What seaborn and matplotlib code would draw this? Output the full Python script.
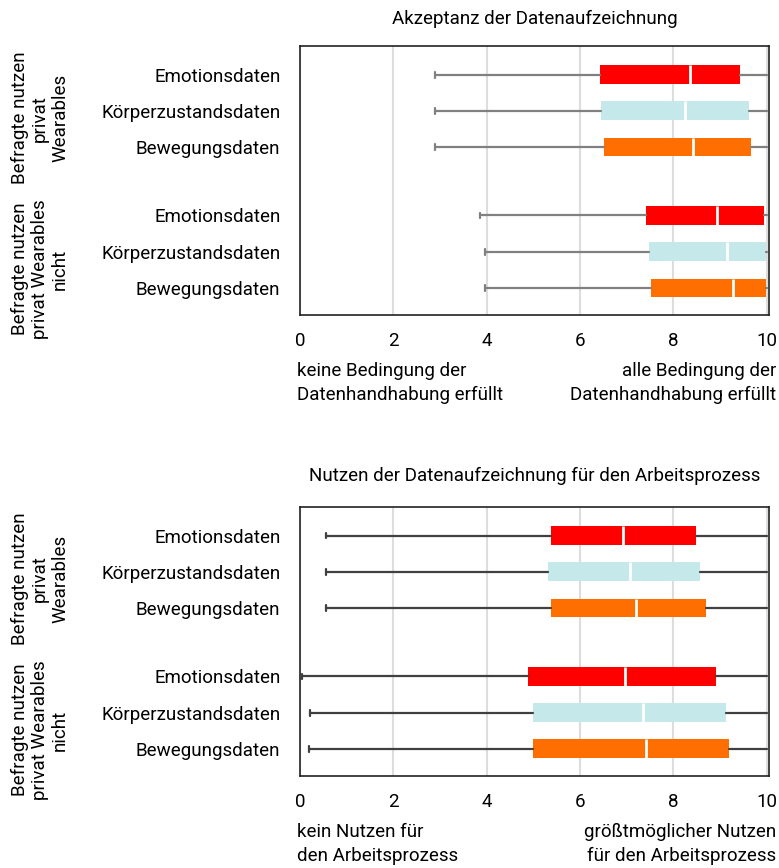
import matplotlib
matplotlib.use("Agg")
import matplotlib.pyplot as plt
import seaborn as sns

sns.set_theme(style="white")
plt.rcParams['font.family'] = ['Roboto', 'DejaVu Sans']
plt.rcParams['text.color'] = 'black'
plt.rcParams['xtick.color'] = 'black'
plt.rcParams['ytick.color'] = 'black'

categories = ["Emotionsdaten", "Körperzustandsdaten", "Bewegungsdaten"]
groups = ["Befragte nutzen\nprivat\nWearables", "Befragte nutzen\nprivat Wearables\nnicht"]
colors = ["#FF0000", "#C5E9EB", "#FF6E00"]

# Panel 1: Akzeptanz (min, q1, median, q3, max) for users then non-users
acc_min = [2.89, 2.89, 2.89, 3.86, 3.96, 3.96]
acc_q1 = [6.43, 6.45, 6.51, 7.41, 7.48, 7.52]
acc_med = [8.36, 8.25, 8.42, 8.94, 9.16, 9.28]
acc_q3 = [9.43, 9.62, 9.66, 9.94, 9.99, 9.99]
acc_max = [10, 10, 10, 10, 10, 10]

# Panel 2: Nutzen
nut_min = [0.55, 0.55, 0.55, 0.04, 0.21, 0.19]
nut_q1 = [5.38, 5.31, 5.38, 4.89, 4.99, 4.99]
nut_med = [6.92, 7.08, 7.20, 6.97, 7.36, 7.41]
nut_q3 = [8.49, 8.57, 8.70, 8.91, 9.13, 9.19]
nut_max = [10, 10, 10, 10, 10, 10]

titles = ["Akzeptanz der Datenaufzeichnung",
          "Nutzen der Datenaufzeichnung für den Arbeitsprozess"]
left_notes = ["keine Bedingung der\nDatenhandhabung erfüllt", "kein Nutzen für\nden Arbeitsprozess"]
right_notes = ["alle Bedingung der\nDatenhandhabung erfüllt", "größtmöglicher Nutzen\nfür den Arbeitsprozess"]
xticks = [0, 2, 4, 6, 8, 10]

positions = [0, 1, 2, 3.89, 4.89, 5.89]
fig = plt.figure(figsize=(7.79, 8.68), dpi=100)
ax1 = fig.add_axes([0.385, 0.637, 0.602, 0.310])
ax2 = fig.add_axes([0.385, 0.106, 0.602, 0.310])

panels = [
    (ax1, acc_min, acc_q1, acc_med, acc_q3, acc_max, "#808080", 16),
    (ax2, nut_min, nut_q1, nut_med, nut_q3, nut_max, "#404040", 19),
]

fs = 13.5
for i, (ax, mn, q1, md, q3, mx, wc, tpad) in enumerate(panels):
    stats = []
    for j in range(6):
        stats.append(dict(whislo=mn[j], q1=q1[j], med=md[j], q3=q3[j], whishi=mx[j],
                          label=categories[j % 3]))
    art = ax.bxp(stats, positions=positions, widths=0.52, orientation='horizontal',
                 patch_artist=True, showfliers=False, capwidths=0.16,
                 boxprops=dict(linewidth=0),
                 medianprops=dict(color="white", linewidth=2),
                 whiskerprops=dict(color=wc, linewidth=1.6),
                 capprops=dict(color=wc, linewidth=1.6),
                 zorder=3)
    for j, b in enumerate(art['boxes']):
        b.set_facecolor(colors[j % 3])
        b.set_edgecolor("none")
        b.set_zorder(3)
    for j, c in enumerate(art['caps']):
        if j % 2 == 1:
            c.set_visible(False)
    for m in art['medians']:
        m.set_zorder(4)
    ax.set_xlim(0, 10.05)
    ax.set_ylim(6.64, -0.79)
    ax.set_xticks(xticks)
    ax.set_xticklabels([str(t) for t in xticks], fontsize=fs)
    ax.set_yticks(positions)
    ax.set_yticklabels([categories[j % 3] for j in range(6)], fontsize=fs)
    ax.tick_params(axis='both', length=0)
    ax.tick_params(axis='y', pad=14)
    ax.tick_params(axis='x', pad=12)
    ax.xaxis.grid(True, color="#dddddd", linewidth=1.5, zorder=0)
    ax.set_axisbelow(True)
    for s in ax.spines.values():
        s.set_color("#222222")
        s.set_linewidth(1.2)
    ax.set_title(titles[i], fontsize=fs, pad=tpad)
    # group labels
    for g, yc in zip(groups, [1.2, 5.37]):
        ax.annotate(g, xy=(0, yc), xycoords=('figure fraction', 'data'),
                    xytext=(40, 0), textcoords='offset pixels',
                    rotation=90, ha='center', va='center', fontsize=fs,
                    multialignment='center', linespacing=1.15, annotation_clip=False)

fig.text(0.381, 0.583, left_notes[0], ha='left', va='top', fontsize=fs, linespacing=1.45)
fig.text(0.996, 0.583, right_notes[0], ha='right', va='top', fontsize=fs, linespacing=1.45,
         multialignment='right')
fig.text(0.381, 0.052, left_notes[1], ha='left', va='top', fontsize=fs, linespacing=1.45)
fig.text(0.996, 0.052, right_notes[1], ha='right', va='top', fontsize=fs, linespacing=1.45,
         multialignment='right')

fig.savefig("out.png", dpi=100)
